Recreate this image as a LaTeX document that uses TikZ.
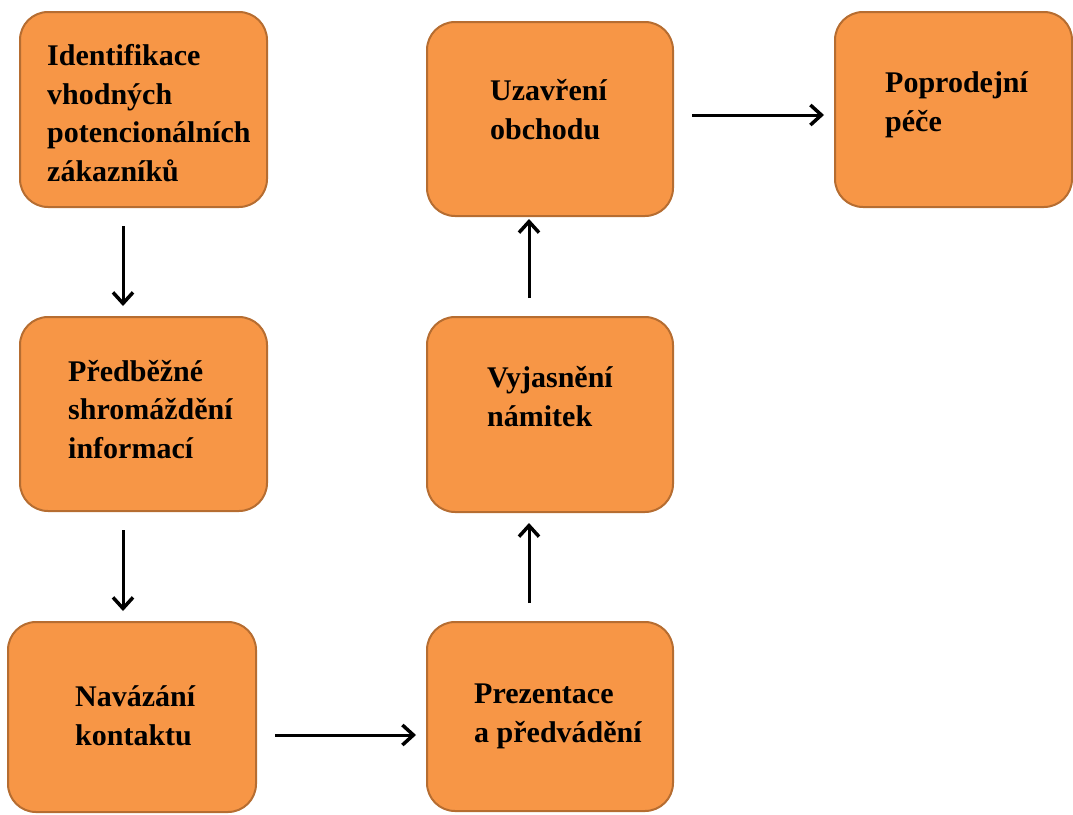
\documentclass[tikz,border=0pt]{standalone}
\usepackage{fontspec}
\setmainfont{Liberation Serif}
\usetikzlibrary{arrows.meta}
\definecolor{boxfill}{HTML}{F79646}
\definecolor{boxline}{HTML}{B66D31}

\begin{document}
\begin{tikzpicture}[x=1pt,y=-1pt,
    box/.style={draw=boxline,line width=2pt,fill=boxfill,rounded corners=28pt,inner sep=0pt},
    txt/.style={anchor=base west,align=left,inner sep=0pt,font=\bfseries\fontsize{30}{38.5}\selectfont},
    arr/.style={-{Straight Barb[length=11pt,width=20pt,line width=3.5pt]},line width=3pt,shorten <=18pt,shorten >=10pt}]
    \useasboundingbox (0,0) rectangle (1073,814);
    % bloky
    \node[box,minimum width=247pt,minimum height=195pt] (ident) at (143.5,109.5) {};
    \node[box,minimum width=247pt,minimum height=194pt] (info) at (143.5,414) {};
    \node[box,minimum width=248pt,minimum height=190pt] (kontakt) at (132,717) {};
    \node[box,minimum width=246pt,minimum height=189pt] (prez) at (550,716.5) {};
    \node[box,minimum width=246pt,minimum height=195pt] (namit) at (550,414.5) {};
    \node[box,minimum width=246pt,minimum height=194pt] (uzav) at (550,119) {};
    \node[box,minimum width=237pt,minimum height=195pt] (pece) at (953.5,109.5) {};
    % texty (ukotveno na poslednim radku)
    \node[txt] (t1) at (47,181) {Identifikace\\vhodných\\potencionálních\\zákazníků};
    \node[txt] (t2) at (68,458) {Předběžné\\shromáždění\\informací};
    \node[txt] (t3) at (75,745) {Navázání\\kontaktu};
    \node[txt] (t4) at (474,742) {Prezentace\\a předvádění};
    \node[txt] (t5) at (487,426) {Vyjasnění\\námitek};
    \node[txt] (t6) at (490,139) {Uzavření\\obchodu};
    \node[txt] (t7) at (885,131) {Poprodejní\\péče};
    % šipky
    \draw[arr] ([xshift=-20.5pt]ident.south) -- ([xshift=-20.5pt]info.north);
    \draw[arr] ([xshift=-20.5pt]info.south) -- ([xshift=-20.5pt]info.south |- kontakt.north);
    \draw[arr] ([yshift=-18pt]kontakt.east) -- ([yshift=-18pt]kontakt.east -| prez.west);
    \draw[arr] ([xshift=-21pt]prez.north) -- ([xshift=-21pt]namit.south);
    \draw[arr,shorten >=2pt] ([xshift=-21pt]namit.north) -- ([xshift=-21pt]uzav.south);
    \draw[arr] ([yshift=4pt]uzav.east) -- ([yshift=4pt]uzav.east -| pece.west);
\end{tikzpicture}
\end{document}
